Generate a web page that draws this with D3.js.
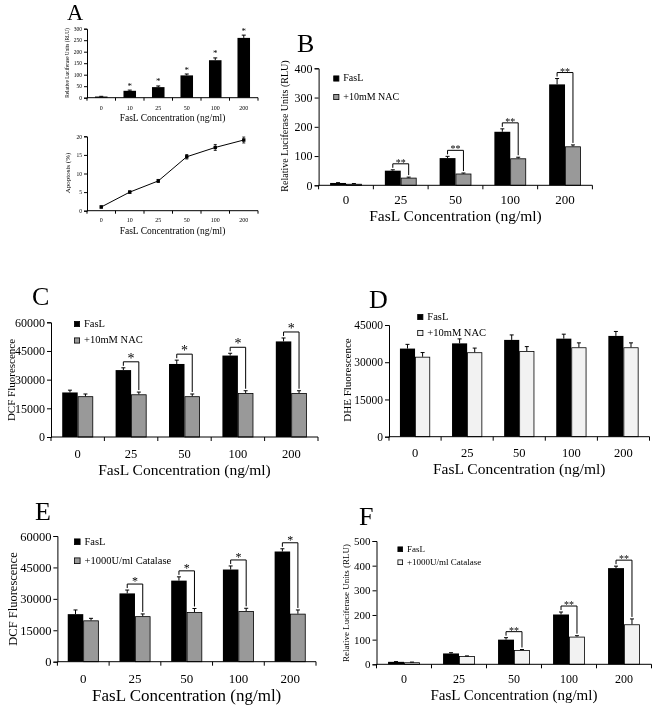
<!DOCTYPE html>
<html><head><meta charset="utf-8">
<script src="https://cdn.jsdelivr.net/npm/d3@7"></script>
<style>
body{margin:0;background:#fff}
svg{display:block;will-change:transform}
text{font-family:"Liberation Serif","Times New Roman",serif;fill:#000}
</style>
</head><body>
<svg id="c" width="658" height="710"></svg>
<script>
// ---------------- data ----------------
const conc6 = ["0","10","25","50","100","200"];
const conc5 = ["0","25","50","100","200"];
const xTitle = "FasL Concentration (ng/ml)";

const aLuc    = [5,30,46,97,163,260];
const aLucErr = [1,3,5,6,10,12];
const aLucSig = ["","*","*","*","*","*"];
const aApop    = [1,5,8,14.5,17,19];
const aApopErr = [0.3,0.3,0.4,0.6,0.8,0.8];

const bFasL    = [8,50,93,183,345];
const bFasLErr = [1,3,6,10,20];
const bNAC     = [5,26,40,92,133];
const bNACErr  = [1,2,2,4,5];
const bSig     = ["","**","**","**","**"];

const cFasL    = [23300,35000,38200,42600,50000];
const cFasLErr = [1200,1200,2000,1200,1800];
const cNAC     = [21300,22300,21300,23000,23000];
const cNACErr  = [1200,1200,1200,1200,1200];
const cSig     = ["","*","*","*","*"];

const dFasL    = [35500,37600,39000,39500,40600];
const dFasLErr = [1700,1800,2000,1800,1800];
const dNAC     = [32200,34000,34500,36000,36000];
const dNACErr  = [1700,1700,1800,1800,1800];

const eFasL    = [22700,32600,38700,44000,52600];
const eFasLErr = [2000,1600,1800,1700,1300];
const eCat     = [19700,21700,23700,24200,22900];
const eCatErr  = [1000,1100,1700,1300,1800];
const eSig     = ["","*","*","*","*"];

const fFasL    = [10,44,100,202,390];
const fFasLErr = [1,3,8,10,8];
const fCat     = [8,33,58,112,162];
const fCatErr  = [1,1,2,4,22];
const fSig     = ["","","**","**","**"];

const legFasL = "FasL", legNAC = "+10mM NAC", legCat = "+1000U/ml Catalase";

// ---------------- drawing ----------------
const svg = d3.select("#c");
const FF = '"Liberation Serif","Times New Roman",serif';

function yAxis(g, y, x0, max, step, fs, tick){
  const ax = d3.axisLeft(y).tickValues(d3.range(0, max + step/1000, step))
    .tickSize(tick).tickPadding(2).tickFormat(d3.format("d"));
  const a = g.append("g").attr("transform", `translate(${x0},0)`).call(ax);
  a.attr("font-family", FF).attr("font-size", fs);
  a.selectAll("text").attr("fill", "#000");
  a.selectAll("line,path").attr("stroke", "#000");
}

function xAxis(g, x, o){
  g.append("line").attr("x1", o.x0).attr("x2", o.x1).attr("y1", o.yBot).attr("y2", o.yBot)
    .attr("stroke", "#000").attr("stroke-width", 1);
  const bounds = o.cats.map(c => x(c)).concat([o.x1]);
  g.selectAll(".xt").data(bounds).join("line")
    .attr("x1", d => d).attr("x2", d => d).attr("y1", o.yBot).attr("y2", o.yBot + o.xtick)
    .attr("stroke", "#000");
  g.selectAll(".xl").data(o.cats).join("text")
    .attr("x", d => x(d) + x.bandwidth()/2).attr("y", o.xlY)
    .attr("text-anchor", "middle").attr("font-size", o.fx).text(d => d);
  g.append("text").attr("x", (o.x0 + o.x1)/2 + (o.tdx||0)).attr("y", o.titleY)
    .attr("text-anchor", "middle").attr("font-size", o.ft).text(xTitle);
  g.append("text").attr("transform", `translate(${o.ylX},${o.ylY}) rotate(-90)`)
    .attr("text-anchor", "middle").attr("font-size", o.fyl).text(o.ylab);
}

function errBars(g, xs, tops, cap){
  g.selectAll(null).data(xs.map((xv,i)=>[xv,tops[i][0],tops[i][1]])).join("path")
    .attr("d", d => `M${d[0]},${d[1]}V${d[2]}M${d[0]-cap},${d[2]}H${d[0]+cap}`)
    .attr("stroke", "#000").attr("stroke-width", 1).attr("fill", "none");
}

function barPanel(o){
  const g = svg.append("g");
  const x = d3.scaleBand().domain(o.cats).range([o.x0, o.x1]);
  const y = d3.scaleLinear().domain([0, o.max]).range([o.yBot, o.yTop]);
  const bw = x.bandwidth() * o.bwf;
  const c1 = d => x(d) + x.bandwidth()/2 - (o.s2 ? bw/2 : 0);
  const c2 = d => x(d) + x.bandwidth()/2 + bw/2;

  g.selectAll(".b1").data(o.cats).join("rect")
    .attr("x", d => c1(d) - bw/2).attr("width", bw)
    .attr("y", (d,i) => y(o.s1[i])).attr("height", (d,i) => o.yBot - y(o.s1[i]))
    .attr("fill", "#000");
  errBars(g, o.cats.map(c1), o.s1.map((v,i)=>[y(v), y(v + o.e1[i])]), o.cap);
  if (o.s2){
    g.selectAll(".b2").data(o.cats).join("rect")
      .attr("x", d => c2(d) - bw/2 + 0.4).attr("width", bw - 0.8)
      .attr("y", (d,i) => y(o.s2[i]) + 0.4).attr("height", (d,i) => o.yBot - y(o.s2[i]) - 0.4)
      .attr("fill", o.fill2).attr("stroke", "#000").attr("stroke-width", 0.8);
    errBars(g, o.cats.map(c2), o.s2.map((v,i)=>[y(v), y(v + o.e2[i])]), o.cap);
  }
  yAxis(g, y, o.x0, o.max, o.step, o.fy, o.ytick);
  xAxis(g, x, o);

  if (o.sig && o.s2){
    o.cats.forEach((c,i) => {
      if (!o.sig[i]) return;
      const t1 = y(o.s1[i] + o.e1[i]), t2 = y(o.s2[i] + o.e2[i]);
      const hy = t1 - o.bh;
      g.append("path").attr("d", `M${c1(c)},${t1 - 2}V${hy}H${c2(c)}V${t2 - 2}`)
        .attr("stroke", "#000").attr("fill", "none").attr("stroke-width", 1);
      g.append("text").attr("x", (c1(c) + c2(c))/2).attr("y", hy + o.sigDy)
        .attr("text-anchor", "middle").attr("font-size", o.fs).text(o.sig[i]);
    });
  } else if (o.sig){
    o.cats.forEach((c,i) => {
      if (!o.sig[i]) return;
      g.append("text").attr("x", c1(c)).attr("y", y(o.s1[i] + o.e1[i]) + o.sigDy)
        .attr("text-anchor", "middle").attr("font-size", o.fs).text(o.sig[i]);
    });
  }

  if (o.leg){
    o.leg.forEach((L, i) => {
      const ly = o.ly[i];
      g.append("rect").attr("x", o.lx + 0.4).attr("y", ly + 0.4).attr("width", o.ls - 0.8).attr("height", o.ls - 0.8)
        .attr("fill", i === 0 ? "#000" : o.fill2).attr("stroke", "#000").attr("stroke-width", 0.8);
      g.append("text").attr("x", o.lx + o.ls + o.lgap).attr("y", ly + o.ls - 0.5)
        .attr("font-size", o.fl).text(L);
    });
  }
}

// Panel letters: [letter, x, baseline y, size]
[["A",67,20.4,22.5],["B",297,52,26],["C",32,305,26],["D",369,308,26],["E",35,520,26],["F",359,525,26]].forEach(p => {
  svg.append("text").attr("x", p[1]).attr("y", p[2]).attr("font-size", p[3]).text(p[0]);
});

// A top
barPanel({cats: conc6, s1: aLuc, e1: aLucErr, sig: aLucSig,
  x0: 87, x1: 258, yTop: 28.7, yBot: 97.7, max: 300, step: 50, bwf: 0.44, cap: 2,
  fy: 5.5, ytick: 3, xtick: 3, fx: 6, xlY: 109.5, ft: 9.5, titleY: 120.5,
  ylab: "Relative Luciferase Units (RLU)", ylX: 68.5, ylY: 63, fyl: 5.3,
  fs: 9, sigDy: -1.5});

// A bottom (line)
(function(){
  const g = svg.append("g");
  const o = {cats: conc6, x0: 87, x1: 258, yTop: 136.3, yBot: 210.7, xtick: 3, fx: 6, xlY: 222,
    ft: 9.5, titleY: 234, ylab: "Apoptosis (%)", ylX: 70, ylY: 173, fyl: 7};
  const x = d3.scaleBand().domain(conc6).range([o.x0, o.x1]);
  const y = d3.scaleLinear().domain([0, 20]).range([o.yBot, o.yTop]);
  const cx = d => x(d) + x.bandwidth()/2;
  yAxis(g, y, o.x0, 20, 5, 5.5, 3);
  xAxis(g, x, o);
  g.append("path").datum(aApop)
    .attr("d", d3.line().x((d,i) => cx(conc6[i])).y(d => y(d)))
    .attr("fill", "none").attr("stroke", "#000").attr("stroke-width", 1);
  g.selectAll(".eb").data(aApop).join("path")
    .attr("d", (d,i) => { const X = cx(conc6[i]), a = y(d - aApopErr[i]), b = y(d + aApopErr[i]);
      return `M${X},${a}V${b}M${X-1.5},${a}H${X+1.5}M${X-1.5},${b}H${X+1.5}`; })
    .attr("stroke", "#000").attr("stroke-width", 0.8);
  g.selectAll(".pt").data(aApop).join("rect")
    .attr("x", (d,i) => cx(conc6[i]) - 1.7).attr("y", d => y(d) - 1.7)
    .attr("width", 3.4).attr("height", 3.4).attr("fill", "#000");
})();

// B
barPanel({cats: conc5, s1: bFasL, e1: bFasLErr, s2: bNAC, e2: bNACErr, sig: bSig, fill2: "#999999",
  x0: 318.6, x1: 592.4, yTop: 68.3, yBot: 185.3, max: 400, step: 100, bwf: 0.29, cap: 2,
  fy: 12, ytick: 4, xtick: 4, fx: 13, xlY: 203.5, ft: 15.5, titleY: 220.5,
  ylab: "Relative Luciferase Units (RLU)", ylX: 288, ylY: 126, fyl: 10,
  fs: 10, sigDy: 2, bh: 6,
  leg: [legFasL, legNAC], lx: 333.3, ly: [75.5, 94], ls: 6, lgap: 4, fl: 10});

// C
barPanel({cats: conc5, s1: cFasL, e1: cFasLErr, s2: cNAC, e2: cNACErr, sig: cSig, fill2: "#999999",
  x0: 51, x1: 318, yTop: 322.3, yBot: 437, max: 60000, step: 15000, bwf: 0.29, cap: 2,
  fy: 12, ytick: 4, xtick: 4, fx: 12.5, xlY: 458, ft: 15.5, titleY: 474.5,
  ylab: "DCF Fluorescence", ylX: 15, ylY: 380, fyl: 11,
  fs: 14, sigDy: 1, bh: 6,
  leg: [legFasL, legNAC], lx: 74, ly: [321, 337.5], ls: 6, lgap: 4, fl: 10.5});

// D
barPanel({cats: conc5, s1: dFasL, e1: dFasLErr, s2: dNAC, e2: dNACErr, fill2: "#f2f2f2",
  x0: 389, x1: 649.5, yTop: 325, yBot: 436.7, max: 45000, step: 15000, bwf: 0.29, cap: 2,
  fy: 11.5, ytick: 4, xtick: 4, fx: 12.5, xlY: 457, ft: 15.5, titleY: 473.5,
  ylab: "DHE Fluorescence", ylX: 351, ylY: 380, fyl: 11,
  leg: [legFasL, legNAC], lx: 417.3, ly: [314, 330], ls: 6, lgap: 4, fl: 10.5});

// E
barPanel({cats: conc5, s1: eFasL, e1: eFasLErr, s2: eCat, e2: eCatErr, sig: eSig, fill2: "#999999",
  x0: 57.4, x1: 316, yTop: 536, yBot: 661.7, max: 60000, step: 15000, bwf: 0.3, cap: 2,
  fy: 12.5, ytick: 4, xtick: 4, fx: 13, xlY: 682.5, ft: 17, titleY: 700.5,
  ylab: "DCF Fluorescence", ylX: 17, ylY: 599, fyl: 12.5,
  fs: 12, sigDy: 1, bh: 6,
  leg: [legFasL, legCat], lx: 74, ly: [538.5, 557.5], ls: 6.5, lgap: 4, fl: 10.5});

// F
barPanel({cats: conc5, s1: fFasL, e1: fFasLErr, s2: fCat, e2: fCatErr, sig: fSig, fill2: "#f2f2f2",
  x0: 376.5, x1: 651.5, yTop: 541, yBot: 664.3, max: 500, step: 100, bwf: 0.29, cap: 2,
  fy: 11, ytick: 4, xtick: 4, fx: 12, xlY: 683, ft: 15, titleY: 699.5,
  ylab: "Relative Luciferase Units (RLU)", ylX: 349, ylY: 603, fyl: 9,
  fs: 10, sigDy: 2, bh: 6,
  leg: [legFasL, legCat], lx: 397.5, ly: [546.5, 559.5], ls: 5.5, lgap: 4, fl: 9});
</script>
</body></html>
